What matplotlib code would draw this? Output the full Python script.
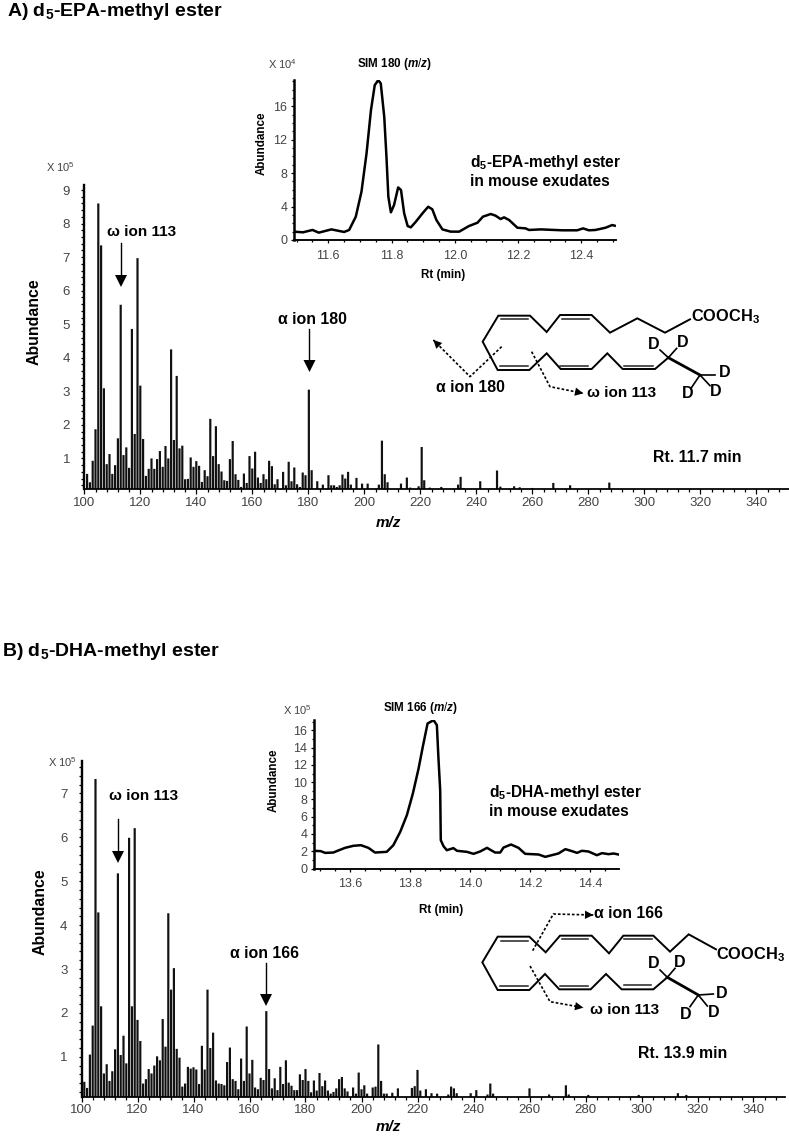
import matplotlib
matplotlib.use('Agg')
import matplotlib.pyplot as plt
from matplotlib.ticker import MultipleLocator

plt.rcParams['font.family'] = ['Liberation Sans', 'DejaVu Sans']
plt.rcParams['mathtext.fontset'] = 'custom'
plt.rcParams['mathtext.rm'] = 'Liberation Sans'
plt.rcParams['mathtext.bf'] = 'Liberation Sans:bold'
plt.rcParams['mathtext.it'] = 'Liberation Sans:italic:bold'

W, H = 789, 1136

# spectrum A, m/z and abundance (x 10^5)
mz_a = [101, 102, 103, 104, 105, 106, 107, 108, 109, 110, 111, 112, 113, 114, 115, 116, 117, 118, 119, 120,
        121, 122, 123, 124, 125, 126, 127, 128, 129, 130, 131, 132, 133, 134, 135, 136, 137, 138, 139, 140,
        141, 142, 143, 144, 145, 146, 147, 148, 149, 150, 151, 152, 153, 154, 155, 156, 157, 158, 159, 160,
        161, 162, 163, 164, 165, 166, 167, 168, 169, 171, 172, 173, 174, 175, 176, 177, 178, 179, 180.2, 181.2,
        183.2, 185.2, 187.2, 188.2, 189.2, 190.2, 191.2, 192.2, 193.2, 194.2, 195.2, 197.2, 199.2, 201.2, 204.2,
        205.2, 206.3, 207.3, 208.3, 213.1, 215.2, 216.4, 219.4, 220.5, 221.4, 223.4, 227.5, 233.5, 234.4, 235.5,
        241.4, 245, 247.4, 248.6, 253.5, 255.5, 260, 267.5, 273.5, 287.5]
ab_a = [0.54, 0.29, 0.93, 1.87, 8.6, 7.35, 3.09, 0.83, 1.13, 0.54, 0.8, 1.6, 5.58, 1.1, 1.33, 0.72, 4.86, 1.73, 6.97, 3.17,
        1.58, 0.48, 0.69, 1.0, 0.69, 0.98, 1.22, 0.75, 1.37, 1.0, 4.25, 1.55, 3.46, 1.3, 1.38, 0.38, 0.39, 1.03, 0.75, 0.92,
        0.78, 0.3, 0.65, 0.47, 2.18, 1.07, 1.96, 0.83, 0.61, 0.35, 0.33, 0.98, 1.52, 0.53, 0.36, 0.15, 0.55, 0.27, 1.07, 0.7,
        1.2, 0.43, 0.27, 0.53, 0.38, 0.93, 0.77, 0.23, 0.38, 0.6, 0.2, 0.9, 0.32, 0.73, 0.23, 0.15, 0.58, 0.5, 3.05, 0.65,
        0.32, 0.22, 0.5, 0.2, 0.2, 0.15, 0.2, 0.52, 0.4, 0.6, 0.22, 0.42, 0.25, 0.25, 0.1,
        0.22, 1.53, 0.53, 0.29, 0.25, 0.43, 0.13, 0.17, 1.34, 0.35, 0.13, 0.15, 0.22, 0.45, 0.12,
        0.32, 0.1, 0.64, 0.16, 0.17, 0.14, 0.12, 0.27, 0.2, 0.28]

# spectrum B
mz_b = [100, 101, 102, 103, 104, 105, 106, 107, 108, 109, 110, 111, 112, 113, 114, 115, 116, 117, 118, 119, 120,
        121, 122, 123, 124, 125, 126, 127, 128, 129, 130, 131, 132, 133, 134, 135, 136, 137, 138, 139, 140,
        141, 142, 143, 144, 145, 146, 147, 148, 149, 150, 151, 152, 153, 154, 155, 156, 157, 158, 159, 160,
        161, 162, 163, 164, 165, 166, 167, 168, 169, 170, 171, 172, 173, 174, 175, 176, 177, 178, 179, 180,
        181, 182, 183, 184, 185, 186, 187, 188, 189, 190, 191, 192, 193, 194, 195, 197, 198, 199, 200,
        201, 202, 204, 205, 206, 207, 208, 209, 211, 213, 218, 219, 220, 221, 223, 225, 227, 231,
        232, 233, 234, 239, 241, 245, 246, 247, 260, 267, 273, 274, 281, 299, 313, 316]
ab_b = [1.91, 0.43, 0.29, 1.05, 1.71, 7.33, 4.29, 2.15, 0.62, 0.83, 0.45, 0.67, 1.17, 5.18, 1.04, 1.48, 0.85, 5.99, 2.15, 6.21, 1.84,
        1.36, 0.39, 0.49, 0.72, 0.62, 0.8, 1.01, 0.92, 1.86, 1.23, 4.27, 2.53, 3.02, 1.18, 0.98, 0.32, 0.39, 0.77, 0.73, 0.76,
        0.71, 0.38, 1.25, 0.71, 2.53, 1.2, 1.55, 0.46, 0.39, 0.38, 0.35, 0.88, 1.21, 0.49, 0.45, 0.26, 0.96, 0.45, 1.69, 0.62,
        0.93, 0.3, 0.26, 0.52, 0.47, 2.04, 0.72, 0.28, 0.51, 0.24, 0.77, 0.38, 0.92, 0.41, 0.34, 0.24, 0.24, 0.6, 0.47, 0.72,
        0.45, 0.19, 0.46, 0.23, 0.63, 0.33, 0.46, 0.23, 0.16, 0.2, 0.28, 0.49, 0.54, 0.28, 0.21, 0.3, 0.16, 0.64, 0.26,
        0.35, 0.16, 0.3, 0.32, 1.28, 0.45, 0.16, 0.16, 0.18, 0.28, 0.29, 0.33, 0.7, 0.23, 0.26, 0.17, 0.16, 0.14,
        0.32, 0.28, 0.17, 0.17, 0.24, 0.14, 0.39, 0.16, 0.28, 0.14, 0.35, 0.14, 0.13, 0.13, 0.17, 0.13]

# SIM traces
rt_a = [11.49, 11.52, 11.55, 11.57, 11.61, 11.65, 11.666, 11.687, 11.705, 11.721, 11.735, 11.747, 11.758, 11.766,
        11.777, 11.784, 11.79, 11.798, 11.808, 11.821, 11.83, 11.84, 11.851, 11.861, 11.877, 11.898, 11.916, 11.929,
        11.942, 11.961, 11.987, 12.014, 12.045, 12.072, 12.089, 12.114, 12.129, 12.145, 12.156, 12.172, 12.198,
        12.224, 12.235, 12.272, 12.34, 12.387, 12.406, 12.424, 12.445, 12.477, 12.498, 12.506]
sim_a = [1.0, 0.92, 1.2, 0.88, 1.27, 0.96, 1.2, 2.79, 5.78, 10.36, 15.54, 18.53, 19.12, 18.73,
         14.74, 9.96, 5.18, 3.31, 4.18, 6.29, 5.98, 3.19, 1.67, 1.51, 2.19, 3.19, 3.98, 3.67,
         2.39, 1.27, 1.0, 1.0, 1.67, 2.07, 2.79, 3.11, 2.91, 2.51, 2.71, 2.39, 1.47,
         1.39, 1.2, 1.27, 1.16, 1.16, 1.39, 1.16, 1.2, 1.47, 1.79, 1.71]
rt_b = [13.478, 13.502, 13.517, 13.544, 13.558, 13.583, 13.611, 13.636, 13.661, 13.683, 13.722, 13.744, 13.767,
        13.789, 13.809, 13.828, 13.842, 13.858, 13.878, 13.889, 13.894, 13.9, 13.902, 13.911, 13.922, 13.944, 13.956,
        13.989, 14.011, 14.033, 14.056, 14.083, 14.1, 14.111, 14.136, 14.161, 14.183, 14.206, 14.228, 14.25, 14.294,
        14.317, 14.339, 14.356, 14.372, 14.394, 14.422, 14.439, 14.461, 14.478, 14.494]
sim_b = [2.05, 2.01, 1.81, 1.85, 2.05, 2.39, 2.63, 2.7, 2.39, 1.85, 1.93, 2.7, 4.25,
         6.18, 8.69, 11.58, 14.09, 16.8, 17.18, 16.6, 12.93, 9.07, 3.28, 2.59, 2.12, 2.36, 2.05,
         1.93, 1.7, 1.97, 2.39, 1.85, 1.85, 2.43, 2.78, 2.39, 1.7, 1.66, 1.62, 1.35, 1.74,
         2.24, 2.01, 1.81, 2.05, 1.97, 1.54, 1.78, 1.66, 1.74, 1.62]

TICK = '#444444'
fig = plt.figure(figsize=(W / 100, H / 100), dpi=100)


def px_axes(left, top, right, bottom):
    return fig.add_axes([left / W, 1 - bottom / H, (right - left) / W, (bottom - top) / H])


def style(ax, lw, size, major, minor):
    for s in ['top', 'right']:
        ax.spines[s].set_visible(False)
    ax.spines['left'].set_linewidth(lw)
    ax.spines['bottom'].set_linewidth(lw * 0.75)
    ax.patch.set_alpha(0)
    ax.tick_params(which='major', length=major, width=0.9, labelsize=size, labelcolor=TICK, pad=2)
    ax.tick_params(which='minor', length=minor, width=0.9)


def spectrum(box, mz, ab, ylim, y_ticks):
    ax = px_axes(*box)
    bars = ax.bar(mz, ab, width=0.78, color='#111111', bottom=0)
    for b in bars:
        b.set_snap(False)
    ax.set_xlim(100, 100 + (box[2] - box[0]) / 2.8)
    ax.set_ylim(*ylim)
    ax.set_xticks(range(100, 341, 20))
    ax.xaxis.set_minor_locator(MultipleLocator(4))
    ax.set_yticks(y_ticks)
    ax.yaxis.set_minor_locator(MultipleLocator(0.2))
    style(ax, 1.7, 9.5, 3.5, 2.2)
    ax.tick_params(axis='y', pad=8, length=2.2)
    return ax


def sim(box, rt, vals, xlim, ylim, x_ticks, y_ticks):
    ax = px_axes(*box)
    ax.plot(rt, vals, color='black', lw=1.8)
    ax.set_xlim(*xlim)
    ax.set_ylim(*ylim)
    ax.set_xticks(x_ticks)
    ax.set_yticks(y_ticks)
    ax.set_xticklabels(['%.1f' % t for t in x_ticks])
    ax.xaxis.set_minor_locator(MultipleLocator(0.05))
    ax.yaxis.set_minor_locator(MultipleLocator(1))
    style(ax, 1.8, 9, 2, 1.5)
    ax.tick_params(axis='x', pad=5)
    ax.tick_params(axis='y', pad=2.5)
    return ax


spectrum((84.3, 185, 789, 489.3), mz_a, ab_a, (0.08, 9.15), range(1, 10))
spectrum((81.5, 761, 785, 1096.7), mz_b, ab_b, (0.09, 7.74), range(1, 8))
sim((293.5, 79.5, 616, 240), rt_a, sim_a, (11.49, 12.51), (0, 19.2),
    [11.6, 11.8, 12.0, 12.2, 12.4], [0, 4, 8, 12, 16])
sim((313.5, 719.5, 618.5, 868.5), rt_b, sim_b, (13.478, 14.494), (0, 17.26),
    [13.6, 13.8, 14.0, 14.2, 14.4], [0, 2, 4, 6, 8, 10, 12, 14, 16])

# overlay in image pixels for labels, arrows and the structures
ov = fig.add_axes([0, 0, 1, 1])
ov.set_xlim(0, W)
ov.set_ylim(H, 0)
ov.axis('off')


def txt(x, y, s, size=9, ha='center', weight='bold', color='black', **kw):
    ov.text(x, y, s, fontsize=size, ha=ha, va='center', fontweight=weight, color=color, **kw)


def big_arrow(x, y0, y1):
    ov.plot([x, x], [y0, y1 - 8], color='black', lw=1)
    ov.fill([x - 6, x + 6, x], [y1 - 12, y1 - 12, y1], color='black', lw=0)


def dashed_arrow(pts):
    xs = [p[0] for p in pts]
    ys = [p[1] for p in pts]
    ov.plot(xs, ys, color='black', lw=1.2, ls=(0, (1.6, 1.2)))
    ov.annotate('', xy=pts[-1], xytext=pts[-2],
                arrowprops=dict(arrowstyle='-|>', color='black', lw=0, mutation_scale=15, shrinkA=0, shrinkB=0))


def zoomed(pts, ox, oy):
    return [(ox + x / 3, oy + y / 3) for x, y in pts]


def structure(ox, oy, chain, inner, thick, branches, cut1, cut2):
    p = zoomed(chain, ox, oy)
    ov.plot([q[0] for q in p], [q[1] for q in p], color='black', lw=1.4, solid_joinstyle='miter')
    for seg in inner:
        p = zoomed(seg, ox, oy)
        ov.plot([p[0][0], p[1][0]], [p[0][1], p[1][1]], color='#222222', lw=1.1)
    p = zoomed(thick, ox, oy)
    ov.plot([p[0][0], p[1][0]], [p[0][1], p[1][1]], color='black', lw=2.0)
    for seg, lab in branches:
        p = zoomed(seg, ox, oy)
        ov.plot([p[0][0], p[1][0]], [p[0][1], p[1][1]], color='black', lw=1.2)
        q = zoomed([lab], ox, oy)[0]
        txt(q[0], q[1], 'D', 11.5)
    dashed_arrow(zoomed(cut1, ox, oy))
    dashed_arrow(zoomed(cut2, ox, oy))


structure(400, 290,
          [(870, 88), (795, 128), (712, 85), (630, 128), (575, 75), (480, 75), (440, 126), (390, 77), (295, 77),
           (248, 155), (293, 240), (388, 240), (440, 190), (482, 237), (575, 237), (622, 190), (668, 237), (765, 237),
           (805, 203)],
          [[(303, 88), (385, 88)], [(487, 87), (568, 87)], [(300, 228), (385, 228)], [(480, 227), (565, 227)],
           [(672, 227), (760, 227)]],
          [(805, 203), (900, 255)],
          [([(805, 203), (780, 180)], (762, 163)), ([(805, 203), (830, 175)], (848, 157)),
           ([(900, 255), (945, 255)], (973, 248)), ([(900, 255), (875, 292)], (863, 310)),
           ([(900, 255), (930, 287)], (948, 306))],
          [(305, 170), (210, 260), (100, 150)],
          [(395, 185), (450, 290), (550, 310)])
structure(400, 890,
          [(948, 178), (866, 133), (810, 185), (760, 137), (670, 137), (627, 190), (575, 137), (480, 137), (437, 187),
           (388, 140), (293, 140), (247, 217), (293, 300), (388, 300), (435, 252), (478, 298), (572, 298), (618, 252),
           (665, 298), (760, 298), (802, 262)],
          [[(303, 152), (383, 152)], [(485, 148), (565, 148)], [(672, 148), (755, 148)], [(300, 288), (383, 288)],
           [(480, 288), (565, 288)], [(672, 286), (752, 286)]],
          [(802, 262), (895, 315)],
          [([(802, 262), (780, 240)], (760, 222)), ([(802, 262), (825, 235)], (840, 218)),
           ([(895, 315), (940, 312)], (965, 310)), ([(895, 315), (870, 350)], (857, 373)),
           ([(895, 315), (922, 348)], (940, 368))],
          [(398, 182), (460, 72), (580, 75)],
          [(390, 228), (450, 335), (550, 353)])

txt(7, 12, r'A) d$_{\mathbf{5}}$-EPA-methyl ester', 14, ha='left')
txt(2.5, 652, r'B) d$_{\mathbf{5}}$-DHA-methyl ester', 14, ha='left')

txt(60, 167, r'X 10$^{\mathrm{5}}$', 8, weight='normal', color=TICK)
txt(62, 762, r'X 10$^{\mathrm{5}}$', 8, weight='normal', color=TICK)
txt(283, 64, r'X 10$^{\mathrm{4}}$', 8, weight='normal', color=TICK)
txt(297, 710, r'X 10$^{\mathrm{5}}$', 8, weight='normal', color=TICK)

txt(34, 322, 'Abundance', 11.4, rotation=90)
txt(40, 912, 'Abundance', 11.4, rotation=90)
txt(262, 143, 'Abundance', 8.4, rotation=90)
txt(274, 780, 'Abundance', 8.4, rotation=90)
txt(388, 523, 'm/z', 11, style='italic')
txt(388, 1127, 'm/z', 11, style='italic')
txt(443, 275, 'Rt (min)', 8.4)
txt(441, 910, 'Rt (min)', 8.4)
txt(395, 64, r'SIM 180 ($\mathit{m/z}$)', 8.4)
txt(421, 708, r'SIM 166 ($\mathit{m/z}$)', 8.4)

txt(470, 163, r'd$_{\mathbf{5}}$-EPA-methyl ester', 11.2, ha='left')
txt(470, 181, 'in mouse exudates', 11.2, ha='left')
txt(489, 792, r'd$_{\mathbf{5}}$-DHA-methyl ester', 11.2, ha='left')
txt(489, 811, 'in mouse exudates', 11.2, ha='left')

txt(142, 232, '\u03c9 ion 113', 11)
txt(312, 320, '\u03b1 ion 180', 11.4)
txt(144, 796, '\u03c9 ion 113', 11)
txt(265, 954, '\u03b1 ion 166', 11.4)
big_arrow(121, 243, 287)
big_arrow(309.5, 329, 372)
big_arrow(118, 819, 863)
big_arrow(266, 963, 1006)

txt(436, 387, '\u03b1 ion 180', 11.4, ha='left')
txt(587, 393, '\u03c9 ion 113', 11, ha='left')
txt(594, 914, '\u03b1 ion 166', 11.4, ha='left')
txt(590, 1010, '\u03c9 ion 113', 11, ha='left')
txt(691, 317, r'COOCH$_{\mathbf{3}}$', 11.8, ha='left')
txt(716, 955, r'COOCH$_{\mathbf{3}}$', 11.8, ha='left')
txt(697, 458, 'Rt. 11.7 min', 11.4)
txt(683, 1054, 'Rt. 13.9 min', 11.4)

fig.savefig('out.png', dpi=100)
